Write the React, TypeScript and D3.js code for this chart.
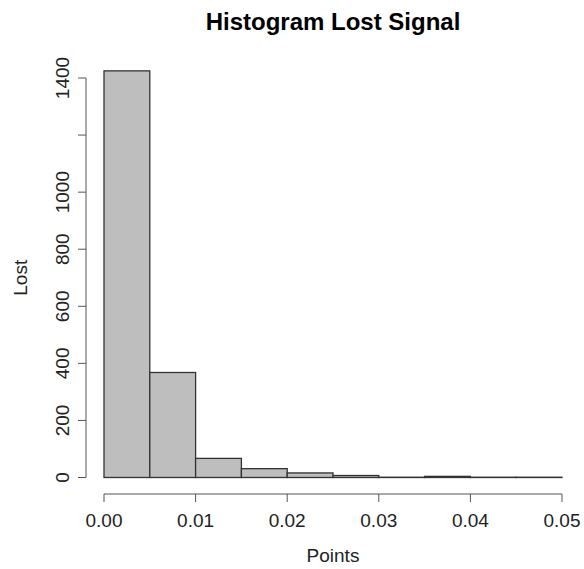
import React from "react";
import * as d3 from "d3";

// Histogram bins (bin width 0.005) and their counts
const binStarts = [0, 0.005, 0.01, 0.015, 0.02, 0.025, 0.03, 0.035, 0.04, 0.045];
const binWidth = 0.005;
const counts = [1425, 368, 67, 31, 16, 7, 1, 4, 1, 1];

const xTicks = [0, 0.01, 0.02, 0.03, 0.04, 0.05];
const yTicks = [0, 200, 400, 600, 800, 1000, 1200, 1400];
const yTickLabels = ["0", "200", "400", "600", "800", "1000", "", "1400"];

const title = "Histogram Lost Signal";
const xTitle = "Points";
const yTitle = "Lost";

const W = 584;
const H = 569;
const FONT = "'Liberation Sans', Arial, Helvetica, sans-serif";

export default function App() {
  const x = d3.scaleLinear().domain([0, 0.05]).range([104, 562]);
  const y = d3.scaleLinear().domain([0, 1400]).range([477.5, 78]);
  const axisY = 494;
  const axisX = 86;

  return (
    <svg
      width={W}
      height={H}
      style={{ position: "absolute", left: 0, top: 0, background: "#fff" }}
      fontFamily={FONT}
    >
      {/* bars */}
      {binStarts.map((b, i) => (
        <rect
          key={i}
          x={x(b)}
          y={y(counts[i])}
          width={x(b + binWidth) - x(b)}
          height={y(0) - y(counts[i])}
          fill="#bebebe"
          stroke="#333"
          strokeWidth={1.3}
        />
      ))}

      {/* x axis */}
      <line x1={x(0)} x2={x(0.05)} y1={axisY} y2={axisY} stroke="#555" strokeWidth={1} />
      {xTicks.map((t) => (
        <g key={t}>
          <line x1={x(t)} x2={x(t)} y1={axisY} y2={axisY + 8} stroke="#555" />
          <text x={x(t)} y={527} textAnchor="middle" fontSize={19} fill="#222">
            {d3.format(".2f")(t)}
          </text>
        </g>
      ))}

      {/* y axis */}
      <line x1={axisX} x2={axisX} y1={y(0)} y2={y(1400)} stroke="#555" strokeWidth={1} />
      {yTicks.map((t, i) => (
        <g key={t}>
          <line x1={axisX - 8} x2={axisX} y1={y(t)} y2={y(t)} stroke="#555" />
          {yTickLabels[i] && (
            <text
              transform={`translate(69,${y(t)}) rotate(-90)`}
              textAnchor="middle"
              fontSize={19}
              fill="#222"
            >
              {yTickLabels[i]}
            </text>
          )}
        </g>
      ))}

      {/* titles */}
      <text x={333} y={30} textAnchor="middle" fontSize={24} fontWeight="bold" fill="#000">
        {title}
      </text>
      <text x={333} y={562} textAnchor="middle" fontSize={19} fill="#222">
        {xTitle}
      </text>
      <text
        transform={`translate(27,${(y(0) + y(1400)) / 2}) rotate(-90)`}
        textAnchor="middle"
        fontSize={19}
        fill="#222"
      >
        {yTitle}
      </text>
    </svg>
  );
}
